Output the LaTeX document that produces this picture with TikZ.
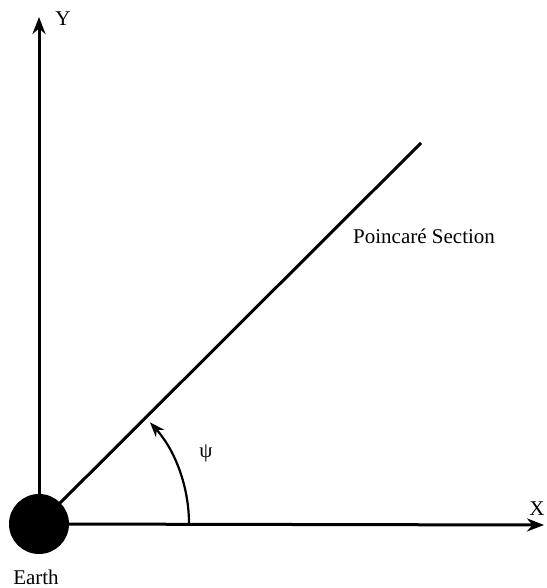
\documentclass[tikz,border=0pt]{standalone}
\usepackage{fontspec}
\setmainfont{Liberation Serif}
\usetikzlibrary{arrows.meta}
\begin{document}
\begin{tikzpicture}[x=1pt,y=1pt,
  axis/.style={line width=3pt,-{Stealth[length=17pt,width=13pt]}},
  lbl/.style={font=\fontsize{21}{24}\selectfont,inner sep=0pt}]
\useasboundingbox (0,0) rectangle (546,588);
\coordinate (O) at (39,64);
\coordinate (ytip) at (39,571);
\coordinate (xtip) at (544,63);
\coordinate (ptop) at (421,445);
\draw[axis] (O) -- (ytip);
\draw[axis] (O) -- (xtip);
\draw[line width=3pt] (O) -- (ptop);
\node[circle,fill=black,minimum size=60pt,inner sep=0pt] (earth) at (O) {};
\draw[line width=2.2pt,-{Stealth[length=15pt,width=11pt]}] (189,64) arc[start angle=0,end angle=42,radius=152];
\node[lbl] (ylab) at (63,569) {Y};
\node[lbl] (xlab) at (537,79) {X};
\node[lbl,anchor=base west] (psec) at (353,344) {Poincaré Section};
\node[lbl] (psi) at (206,135) {ψ};
\node[lbl,anchor=base] (earthlab) at (36,4) {Earth};
\end{tikzpicture}
\end{document}
